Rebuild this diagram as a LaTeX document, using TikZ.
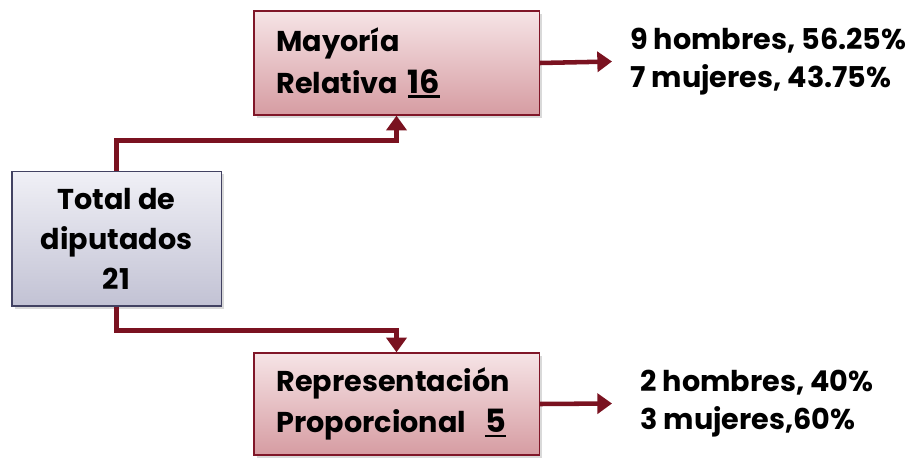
\documentclass[tikz,border=0pt]{standalone}
\usepackage{fontspec}
\setmainfont{Poppins}
\usetikzlibrary{arrows.meta, positioning, shadows}
\definecolor{boxtop}{RGB}{246,228,230}
\definecolor{boxbottom}{RGB}{214,156,162}
\definecolor{boxline}{RGB}{128,22,40}
\definecolor{arrowred}{RGB}{122,18,32}
\definecolor{greytop}{RGB}{240,240,246}
\definecolor{greybottom}{RGB}{194,194,212}
\definecolor{greyline}{RGB}{66,66,98}
\newcommand{\ulnum}[1]{\leavevmode\vtop{\hbox{\fontsize{24}{31}\selectfont #1}\kern1.5pt\hrule height 1.8pt}}
\tikzset{
    redbox/.style={draw=boxline, line width=1pt, top color=boxtop, bottom color=boxbottom,
        drop shadow={opacity=0.3, shadow xshift=2pt, shadow yshift=-2pt},
        minimum width=214pt, font=\bfseries\fontsize{21.5}{31}\selectfont,
        text width=180pt, inner xsep=17pt, align=left},
    greybox/.style={draw=greyline, line width=1pt, top color=greytop, bottom color=greybottom,
        drop shadow={opacity=0.3, shadow xshift=2pt, shadow yshift=-2pt},
        minimum width=157pt, minimum height=101pt, font=\bfseries\fontsize{21.5}{30}\selectfont,
        align=center},
    sidetext/.style={font=\bfseries\fontsize{21.5}{28}\selectfont, align=left, inner xsep=0pt, anchor=west},
    conn/.style={draw=arrowred, line width=3.4pt, -{Triangle[length=11pt, width=15pt]}}
}
\begin{document}
\begin{tikzpicture}[x=0.75pt, y=0.75pt]
        \useasboundingbox (0,0) rectangle (920,458);

        % Boxes
        \node[greybox] (total) at (116.5,219.5) {Total de\\diputados\\21};
        \node[redbox, minimum height=78pt] (mayoria) at (396.5,395) {Mayoría\\Relativa \ulnum{16}};
        \node[redbox, minimum height=76.5pt] (repre) at (396.5,54) {Representación\\Proporcional\ \ \ulnum{5}};

        % Results
        \node[sidetext] (mrtext) at (630,396.5) {9 hombres, 56.25\%\\7 mujeres, 43.75\%};
        \node[sidetext] (rptext) at (640,54.5) {2 hombres, 40\%\\3 mujeres,60\%};

        % Connections from total
        \draw[conn] (total.north) -- ++(0,30) -| (mayoria.south);
        \draw[conn] (total.south) -- ++(0,-24) -| (repre.north);

        % Connections to results
        \draw[conn] (mayoria.east) -- ([xshift=-13.5pt]mrtext.west);
        \draw[conn] (repre.east) -- ([xshift=-21pt]rptext.west);
\end{tikzpicture}
\end{document}
